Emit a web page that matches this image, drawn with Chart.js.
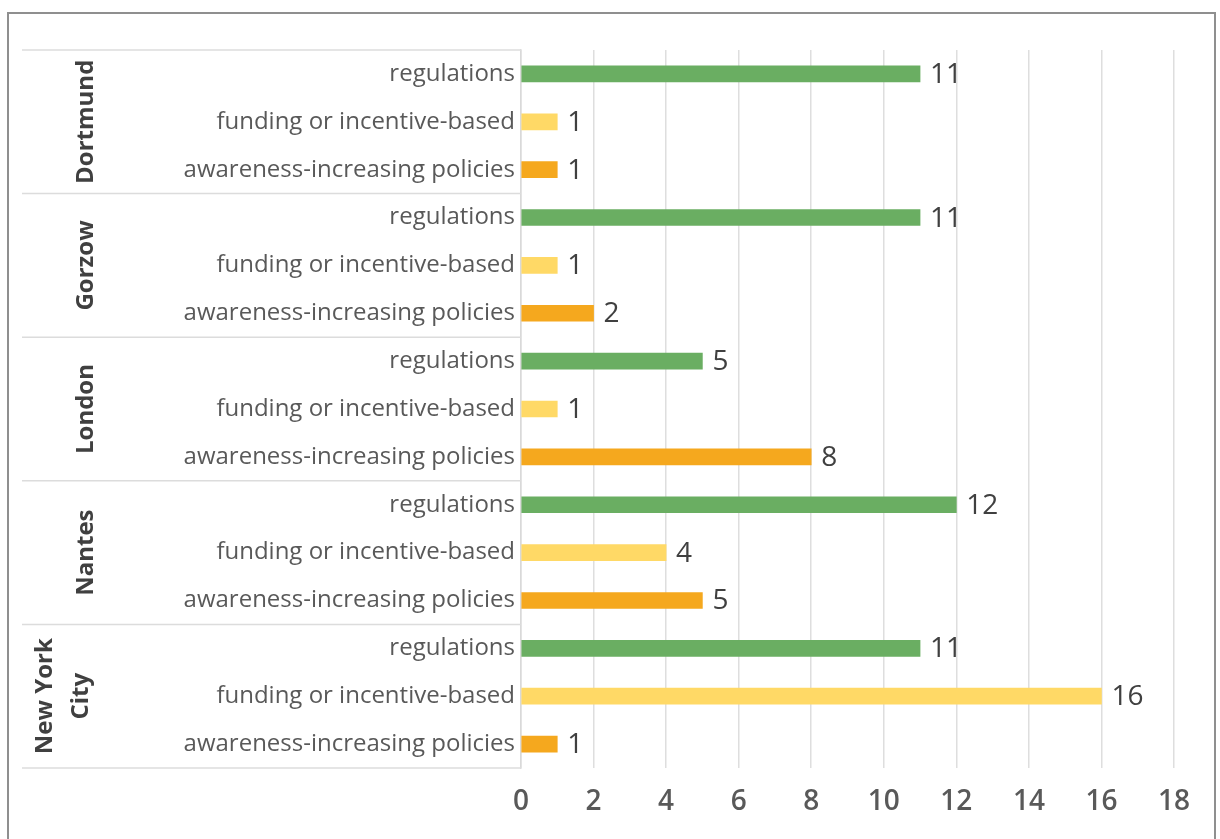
<!DOCTYPE html>
<html>
<head>
<meta charset="utf-8">
<script src="https://cdn.jsdelivr.net/npm/chart.js@4"></script>
<style>
  html, body { margin: 0; padding: 0; background: #fff; }
  #wrap { position: relative; width: 1220px; height: 839px; overflow: hidden; }
  #frame { position: absolute; left: 7px; top: 12px; width: 1209px; height: 900px;
           border: 2px solid #8f8f8f; border-bottom: none; box-sizing: border-box; }
  canvas { position: absolute; left: 0; top: 0; }
</style>
</head>
<body>
<div id="wrap">
  <div id="frame"></div>
  <canvas id="c" width="1220" height="839"></canvas>
</div>
<script>
const cities = ['Dortmund', 'Gorzow', 'London', 'Nantes', 'New York City'];
const cityLines = [['Dortmund'], ['Gorzow'], ['London'], ['Nantes'], ['New York', 'City']];
const policyTypes = ['regulations', 'funding or incentive-based', 'awareness-increasing policies'];
const regulations = [11, 11, 5, 12, 11];
const funding = [1, 1, 1, 4, 16];
const awareness = [1, 2, 8, 5, 1];
const xTicks = [0, 2, 4, 6, 8, 10, 12, 14, 16, 18];

const typeColors = ['#6aae62', '#ffd966', '#f5a81e'];
const FONT = "'Open Sans', sans-serif";

const rowLabels = [];
const rowValues = [];
const rowColors = [];
cities.forEach((c, i) => {
  const vals = [regulations[i], funding[i], awareness[i]];
  policyTypes.forEach((t, j) => {
    rowLabels.push(t);
    rowValues.push(vals[j]);
    rowColors.push(typeColors[j]);
  });
});

const groupPlugin = {
  id: 'groups',
  afterDraw(chart) {
    const ctx = chart.ctx;
    const y = chart.scales.y;
    const area = chart.chartArea;
    const step = y.getPixelForValue(1) - y.getPixelForValue(0);
    ctx.save();
    ctx.strokeStyle = '#dcdcdc';
    ctx.lineWidth = 1.5;
    for (let g = 0; g <= cities.length; g++) {
      const py = g === 0 ? area.top : (g === cities.length ? area.bottom : y.getPixelForValue(g * 3) - step / 2);
      ctx.beginPath();
      ctx.moveTo(22, py);
      ctx.lineTo(area.left, py);
      ctx.stroke();
    }
    // city labels
    ctx.fillStyle = '#404040';
    ctx.font = "bold 24px " + FONT;
    ctx.textAlign = 'center';
    ctx.textBaseline = 'middle';
    cities.forEach((c, g) => {
      const cy = y.getPixelForValue(g * 3 + 1);
      const lines = cityLines[g];
      const lh = 36;
      const cx = lines.length > 1 ? 63 : 86;
      ctx.save();
      ctx.translate(cx, cy);
      ctx.rotate(-Math.PI / 2);
      lines.forEach((ln, k) => {
        ctx.fillText(ln, 0, (k - (lines.length - 1) / 2) * lh);
      });
      ctx.restore();
    });
    // data labels
    ctx.fillStyle = '#404040';
    ctx.font = "28px " + FONT;
    ctx.textAlign = 'left';
    ctx.textBaseline = 'middle';
    const meta = chart.getDatasetMeta(0);
    meta.data.forEach((bar, i) => {
      ctx.fillText(String(rowValues[i]), bar.x + 10, bar.y + 1);
    });
    ctx.restore();
  }
};

new Chart(document.getElementById('c'), {
  type: 'bar',
  data: {
    labels: rowLabels,
    datasets: [{
      data: rowValues,
      backgroundColor: rowColors,
      borderWidth: 0,
      barThickness: 16
    }]
  },
  options: {
    indexAxis: 'y',
    responsive: false,
    animation: false,
    devicePixelRatio: 1,
    layout: { padding: { top: 50, right: 46, left: 0, bottom: 0 } },
    plugins: { legend: { display: false }, tooltip: { enabled: false } },
    scales: {
      x: {
        min: 0, max: 18,
        afterBuildTicks(scale) { scale.ticks = xTicks.map(v => ({ value: v })); },
        afterFit(scale) { scale.height = 71; },
        grid: { color: '#dedede', lineWidth: 1.5, drawTicks: false },
        border: { display: false },
        ticks: { padding: 17, color: '#595959', font: { family: FONT, size: 28, weight: '600' } }
      },
      y: {
        afterFit(scale) { scale.width = 521; },
        grid: { display: false, drawTicks: false },
        border: { display: true, color: '#d9d9d9', width: 1.5 },
        ticks: { padding: 6, color: '#595959', font: { family: FONT, size: 24 }, autoSkip: false }
      }
    }
  },
  plugins: [groupPlugin]
});
</script>
</body>
</html>
